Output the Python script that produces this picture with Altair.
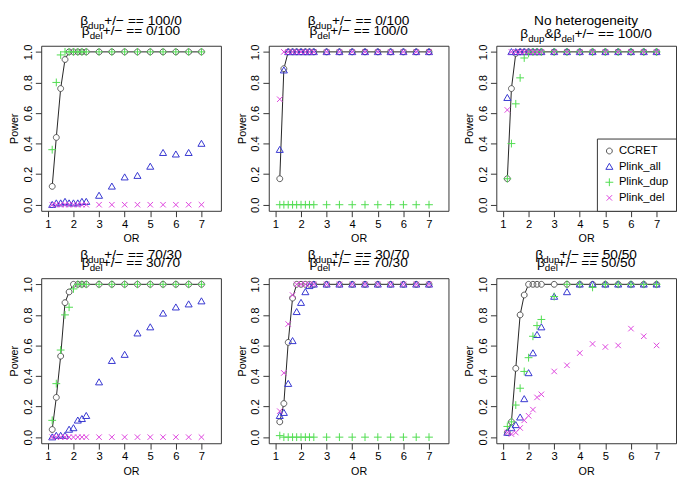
import altair as alt
import pandas as pd

OR = [1.17, 1.33, 1.5, 1.67, 1.83, 2.0, 2.17, 2.33, 2.5, 3.0, 3.5, 4.0, 4.5, 5.0, 5.5, 6.0, 6.5, 7.0]
SERIES = ["CCRET", "Plink_all", "Plink_dup", "Plink_del"]

# Panel 1: dup 100/0, del 0/100
p1_ccret = [0.12, 0.44, 0.76, 0.95, 1.00, 1.00, 1.00, 1.00, 1.00, 1.00, 1.00, 1.00, 1.00, 1.00, 1.00, 1.00, 1.00, 1.00]
p1_all = [0.00, 0.01, 0.01, 0.02, 0.01, 0.01, 0.01, 0.02, 0.02, 0.06, 0.12, 0.18, 0.19, 0.25, 0.34, 0.33, 0.34, 0.40]
p1_dup = [0.36, 0.80, 0.98, 1.00, 1.00, 1.00, 1.00, 1.00, 1.00, 1.00, 1.00, 1.00, 1.00, 1.00, 1.00, 1.00, 1.00, 1.00]
p1_del = [0.00, 0.00, 0.00, 0.00, 0.00, 0.00, 0.00, 0.00, 0.00, 0.00, 0.00, 0.00, 0.00, 0.00, 0.00, 0.00, 0.00, 0.00]

# Panel 2: dup 0/100, del 100/0
p2_ccret = [0.17, 0.89, 1.00, 1.00, 1.00, 1.00, 1.00, 1.00, 1.00, 1.00, 1.00, 1.00, 1.00, 1.00, 1.00, 1.00, 1.00, 1.00]
p2_all = [0.36, 0.88, 1.00, 1.00, 1.00, 1.00, 1.00, 1.00, 1.00, 1.00, 1.00, 1.00, 1.00, 1.00, 1.00, 1.00, 1.00, 1.00]
p2_dup = [0.00, 0.00, 0.00, 0.00, 0.00, 0.00, 0.00, 0.00, 0.00, 0.00, 0.00, 0.00, 0.00, 0.00, 0.00, 0.00, 0.00, 0.00]
p2_del = [0.69, 1.00, 1.00, 1.00, 1.00, 1.00, 1.00, 1.00, 1.00, 1.00, 1.00, 1.00, 1.00, 1.00, 1.00, 1.00, 1.00, 1.00]

# Panel 3: no heterogeneity
p3_ccret = [0.17, 0.76, 0.99, 1.00, 1.00, 1.00, 1.00, 1.00, 1.00, 1.00, 1.00, 1.00, 1.00, 1.00, 1.00, 1.00, 1.00, 1.00]
p3_all = [0.70, 1.00, 1.00, 1.00, 1.00, 1.00, 1.00, 1.00, 1.00, 1.00, 1.00, 1.00, 1.00, 1.00, 1.00, 1.00, 1.00, 1.00]
p3_dup = [0.17, 0.40, 0.66, 0.83, 0.96, 0.99, 1.00, 1.00, 1.00, 1.00, 1.00, 1.00, 1.00, 1.00, 1.00, 1.00, 1.00, 1.00]
p3_del = [0.62, 1.00, 1.00, 1.00, 1.00, 1.00, 1.00, 1.00, 1.00, 1.00, 1.00, 1.00, 1.00, 1.00, 1.00, 1.00, 1.00, 1.00]

# Panel 4: dup 70/30, del 30/70
p4_ccret = [0.05, 0.26, 0.53, 0.88, 0.95, 1.00, 1.00, 1.00, 1.00, 1.00, 1.00, 1.00, 1.00, 1.00, 1.00, 1.00, 1.00, 1.00]
p4_all = [0.00, 0.01, 0.01, 0.01, 0.05, 0.06, 0.11, 0.12, 0.14, 0.36, 0.50, 0.54, 0.68, 0.72, 0.81, 0.85, 0.87, 0.89]
p4_dup = [0.11, 0.35, 0.57, 0.80, 0.85, 0.97, 1.00, 1.00, 1.00, 1.00, 1.00, 1.00, 1.00, 1.00, 1.00, 1.00, 1.00, 1.00]
p4_del = [0.00, 0.00, 0.00, 0.00, 0.00, 0.00, 0.00, 0.00, 0.00, 0.00, 0.00, 0.00, 0.00, 0.00, 0.00, 0.00, 0.00, 0.00]

# Panel 5: dup 30/70, del 70/30
p5_ccret = [0.10, 0.22, 0.62, 0.91, 1.00, 1.00, 1.00, 1.00, 1.00, 1.00, 1.00, 1.00, 1.00, 1.00, 1.00, 1.00, 1.00, 1.00]
p5_all = [0.14, 0.16, 0.35, 0.63, 0.82, 0.88, 0.95, 0.99, 1.00, 1.00, 1.00, 1.00, 1.00, 1.00, 1.00, 1.00, 1.00, 1.00]
p5_dup = [0.01, 0.00, 0.00, 0.00, 0.00, 0.00, 0.00, 0.00, 0.00, 0.00, 0.00, 0.00, 0.00, 0.00, 0.00, 0.00, 0.00, 0.00]
p5_del = [0.17, 0.42, 0.74, 0.93, 1.00, 1.00, 1.00, 1.00, 1.00, 1.00, 1.00, 1.00, 1.00, 1.00, 1.00, 1.00, 1.00, 1.00]

# Panel 6: dup 50/50, del 50/50
p6_ccret = [0.03, 0.10, 0.45, 0.80, 0.93, 1.00, 1.00, 1.00, 1.00, 1.00, 1.00, 1.00, 1.00, 1.00, 1.00, 1.00, 1.00, 1.00]
p6_all = [0.03, 0.06, 0.08, 0.13, 0.25, 0.42, 0.55, 0.67, 0.72, 0.92, 0.95, 1.00, 1.00, 1.00, 1.00, 1.00, 1.00, 1.00]
p6_dup = [0.07, 0.10, 0.21, 0.32, 0.43, 0.52, 0.66, 0.73, 0.77, 0.92, 1.00, 1.00, 0.98, 1.00, 1.00, 1.00, 1.00, 1.00]
p6_del = [0.03, 0.02, 0.03, 0.06, 0.11, 0.14, 0.18, 0.26, 0.28, 0.43, 0.47, 0.55, 0.61, 0.59, 0.60, 0.71, 0.66, 0.60]

PANELS = [
    (p1_ccret, p1_all, p1_dup, p1_del),
    (p2_ccret, p2_all, p2_dup, p2_del),
    (p3_ccret, p3_all, p3_dup, p3_del),
    (p4_ccret, p4_all, p4_dup, p4_del),
    (p5_ccret, p5_all, p5_dup, p5_del),
    (p6_ccret, p6_all, p6_dup, p6_del),
]

# Title pieces: (text, is_subscript)
TITLES = [
    ([("β", 0), ("dup", 1), ("+/− == 100/0", 0)], [("β", 0), ("del", 1), ("+/− == 0/100", 0)]),
    ([("β", 0), ("dup", 1), ("+/− == 0/100", 0)], [("β", 0), ("del", 1), ("+/− == 100/0", 0)]),
    ([("No heterogeneity", 0)], [("β", 0), ("dup", 1), ("&β", 0), ("del", 1), ("+/− == 100/0", 0)]),
    ([("β", 0), ("dup", 1), ("+/− == 70/30", 0)], [("β", 0), ("del", 1), ("+/− == 30/70", 0)]),
    ([("β", 0), ("dup", 1), ("+/− == 30/70", 0)], [("β", 0), ("del", 1), ("+/− == 70/30", 0)]),
    ([("β", 0), ("dup", 1), ("+/− == 50/50", 0)], [("β", 0), ("del", 1), ("+/− == 50/50", 0)]),
]
TITLE_Y = [(-21, -11), (-21, -11), (-21, -8), (-20, -11), (-20, -11), (-20, -11)]

FONT = "Liberation Sans"
W, H = 184, 169
MAIN_FS, SUB_FS = 14, 10

ADV = {"β": 0.574, "&": 0.667, "+": 0.584, "/": 0.278, "−": 0.584, "=": 0.584, " ": 0.278,
       "N": 0.722, "l": 0.222, "i": 0.222, "t": 0.278, "r": 0.333, "y": 0.5}


def text_width(s, fs):
    return sum(ADV.get(c, 0.556) for c in s) * fs


COLORS = ["#555555", "#3434d0", "#4fdc4f", "#dd44dd"]
SHAPES = [
    "M-0.75,0A0.75,0.75 0 1,0 0.75,0A0.75,0.75 0 1,0 -0.75,0Z",
    "M0,-0.85L0.9,0.7L-0.9,0.7Z",
    "M-1,0L1,0M0,-1L0,1",
    "M-0.7,-0.7L0.7,0.7M-0.7,0.7L0.7,-0.7",
]

xscale = alt.Scale(domain=[0.74, 7.76], nice=False, zero=False)
yscale = alt.Scale(domain=[-0.04, 1.04], nice=False, zero=False)


def make_panel(idx):
    vals = PANELS[idx]
    rows = []
    for s_i, (name, v) in enumerate(zip(SERIES, vals)):
        for o, p in zip(OR, v):
            rows.append({"OR": o, "Power": p, "series": name, "k": s_i})
    df = pd.DataFrame(rows)

    x = alt.X("OR:Q", scale=xscale,
              axis=alt.Axis(values=[1, 2, 3, 4, 5, 6, 7], format="d", title="OR"))
    y = alt.Y("Power:Q", scale=yscale,
              axis=alt.Axis(values=[0, 0.2, 0.4, 0.6, 0.8, 1.0], format=".1f",
                            labelAngle=270, title="Power"))

    base = alt.Chart(df)
    cc = base.transform_filter(alt.datum.series == "CCRET")
    line = cc.mark_line(color="#222222", strokeWidth=1).encode(x=x, y=y)
    holes = cc.mark_point(shape=SHAPES[0], filled=True, color="white", opacity=1,
                          size=64).encode(x=x, y=y)
    if idx == 2:
        leg = alt.Legend(orient="bottom-right", offset=0, title=None, strokeColor="#333333",
                         padding=7, labelFontSize=11.5, labelFont=FONT, symbolSize=64,
                         symbolStrokeWidth=1, rowPadding=3, fillColor="white",
                         labelColor="black")
    else:
        leg = None
    pts = base.mark_point(filled=False, strokeWidth=1, opacity=1, size=64).encode(
        x=x, y=y,
        color=alt.Color("series:N", scale=alt.Scale(domain=SERIES, range=COLORS), legend=leg),
        shape=alt.Shape("series:N", scale=alt.Scale(domain=SERIES, range=SHAPES), legend=leg),
        order=alt.Order("k:Q"),
    )

    layers = [line, holes, pts]
    one = pd.DataFrame({"k": [0]})
    for line_i, pieces in enumerate(TITLES[idx]):
        base_y = TITLE_Y[idx][line_i]
        total = sum(text_width(t, SUB_FS if sub else MAIN_FS) for t, sub in pieces)
        xpos = W / 2 - total / 2
        for t, sub in pieces:
            fs = SUB_FS if sub else MAIN_FS
            layers.append(
                alt.Chart(one).mark_text(align="left", baseline="alphabetic", fontSize=fs,
                                         font=FONT, color="black").encode(
                    x=alt.value(xpos), y=alt.value(base_y + (4 if sub else 0)),
                    text=alt.value(t))
            )
            xpos += text_width(t, fs)

    return alt.layer(*layers).properties(width=W, height=H)


panels = [make_panel(i) for i in range(6)]

chart = alt.concat(*panels, columns=3, spacing={"row": 3, "column": 14}).resolve_scale(
    color="independent", shape="independent"
).properties(padding=0).configure(font=FONT).configure_view(
    stroke="#333333", strokeWidth=1
).configure_axis(
    grid=False, domain=False, tickColor="#333333", tickSize=6, labelColor="black",
    labelFontSize=11.5, labelFont=FONT, titleFont=FONT, titleFontSize=11,
    titleFontWeight="normal", titleColor="black", labelPadding=2, titlePadding=3
)

chart.save("out.html", embed_options={"renderer": "svg", "actions": False})
